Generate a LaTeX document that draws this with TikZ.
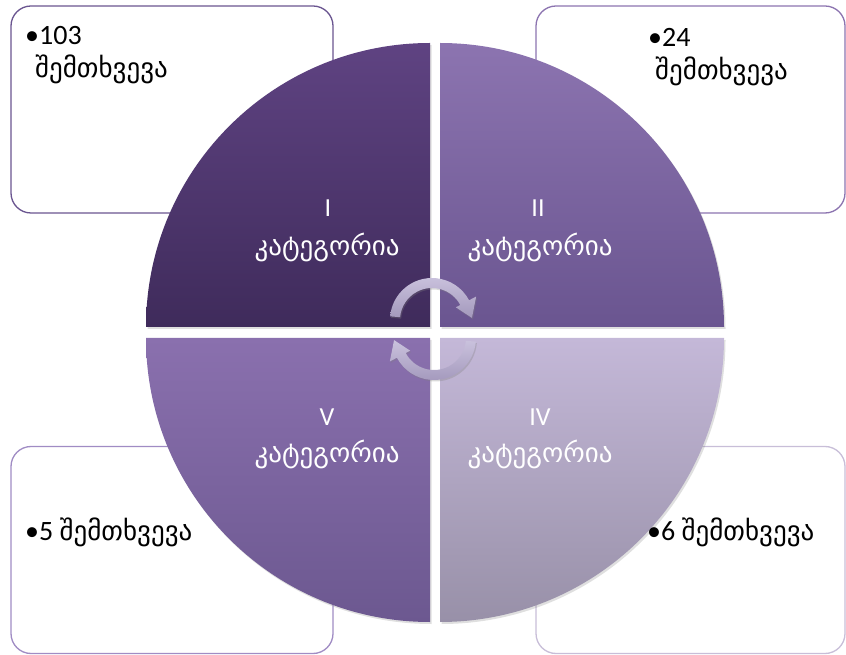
\documentclass[tikz,border=0pt]{standalone}
\usepackage{fontspec}
\setmainfont{Carlito}
\newfontfamily\geo{DejaVu Sans}
\usetikzlibrary{shadows}
\definecolor{qaT}{HTML}{5F4382}
\definecolor{qaB}{HTML}{3F2B5B}
\definecolor{qbT}{HTML}{8C74B0}
\definecolor{qbB}{HTML}{6A5590}
\definecolor{qcT}{HTML}{8A70AE}
\definecolor{qcB}{HTML}{6C5890}
\definecolor{qdT}{HTML}{C4B8D8}
\definecolor{qdB}{HTML}{9890A8}
\definecolor{bda}{HTML}{6A5590}
\definecolor{bdb}{HTML}{8C74B0}
\definecolor{bdc}{HTML}{A08CC4}
\definecolor{bdd}{HTML}{C8BED8}
\definecolor{arT}{HTML}{CAC2DD}
\definecolor{arB}{HTML}{A398BC}
\newcommand{\geofont}{\geo\fontsize{27}{31}\selectfont}
\begin{document}
\begin{tikzpicture}[x=1pt,y=1pt,
  box/.style={draw, line width=1.3pt, rounded corners=20pt, fill=white, minimum width=#1, minimum height=207pt, inner sep=0pt},
  quad/.style={drop shadow={shadow xshift=1.5pt,shadow yshift=-2pt,opacity=0.25}},
  lab/.style={text=white, font=\fontsize{26}{30}\selectfont, inner sep=0pt, anchor=base},
  glab/.style={text=white, font=\geofont, inner sep=0pt, anchor=base},
  btxt/.style={font=\fontsize{28}{32}\selectfont, inner sep=0pt, anchor=base west},
  gtxt/.style={font=\geofont, inner sep=0pt, anchor=base west},
  arr/.style={top color=arT, bottom color=arB, drop shadow={shadow xshift=1pt,shadow yshift=-1.5pt,opacity=0.3}}
]
\useasboundingbox (0,0) rectangle (846,654);
% background boxes
\node[box=322pt, draw=bda] (b1) at (172,544.5) {};
\node[box=309pt, draw=bdb] (b2) at (690.5,544.5) {};
\node[box=322pt, draw=bdc] (b3) at (172,104) {};
\node[box=309pt, draw=bdd] (b4) at (690.5,104) {};
% quadrants
\path[quad, top color=qaT, bottom color=qaB] (430,327) -- (146,327) arc[start angle=180,end angle=90,radius=284] -- cycle;
\path[quad, top color=qbT, bottom color=qbB] (440,327) -- (440,611) arc[start angle=90,end angle=0,radius=284] -- cycle;
\path[quad, top color=qcT, bottom color=qcB] (430,316) -- (146,316) arc[start angle=180,end angle=270,radius=284] -- cycle;
\path[quad, top color=qdT, bottom color=qdB] (440,316) -- (724,316) arc[start angle=0,end angle=-90,radius=284] -- cycle;
% arrows
\begin{scope}[shift={(432,334)}]
\path[arr] (175:42) arc[start angle=175,end angle=28,radius=42] -- (28:50) -- (3:40) -- (28:27) -- (28:32) arc[start angle=28,end angle=175,radius=32] -- cycle;
\end{scope}
\begin{scope}[shift={(434,316)}, rotate=180]
\path[arr] (175:42) arc[start angle=175,end angle=28,radius=42] -- (28:50) -- (3:40) -- (28:27) -- (28:32) arc[start angle=28,end angle=175,radius=32] -- cycle;
\end{scope}
% quadrant labels
\node[lab] (l1) at (328,437) {I};
\node[glab] (g1) at (327,398) {კატეგორია};
\node[lab] (l2) at (538,437) {II};
\node[glab] (g2) at (540,398) {კატეგორია};
\node[lab] (l5) at (327,229) {V};
\node[glab] (g5) at (327,192) {კატეგორია};
\node[lab] (l4) at (540,229) {IV};
\node[glab] (g4) at (540,192) {კატეგორია};
% box texts
\node[btxt] (t1) at (25,609) {•103};
\node[gtxt] (t1b) at (35,576) {შემთხვევა};
\node[btxt] (t2) at (648,607) {•24};
\node[gtxt] (t2b) at (655,574) {შემთხვევა};
\node[btxt] (t3) at (25,114) {•5 {\geofont შემთხვევა}};
\node[btxt] (t4) at (647,114) {•6 {\geofont შემთხვევა}};
\end{tikzpicture}
\end{document}
